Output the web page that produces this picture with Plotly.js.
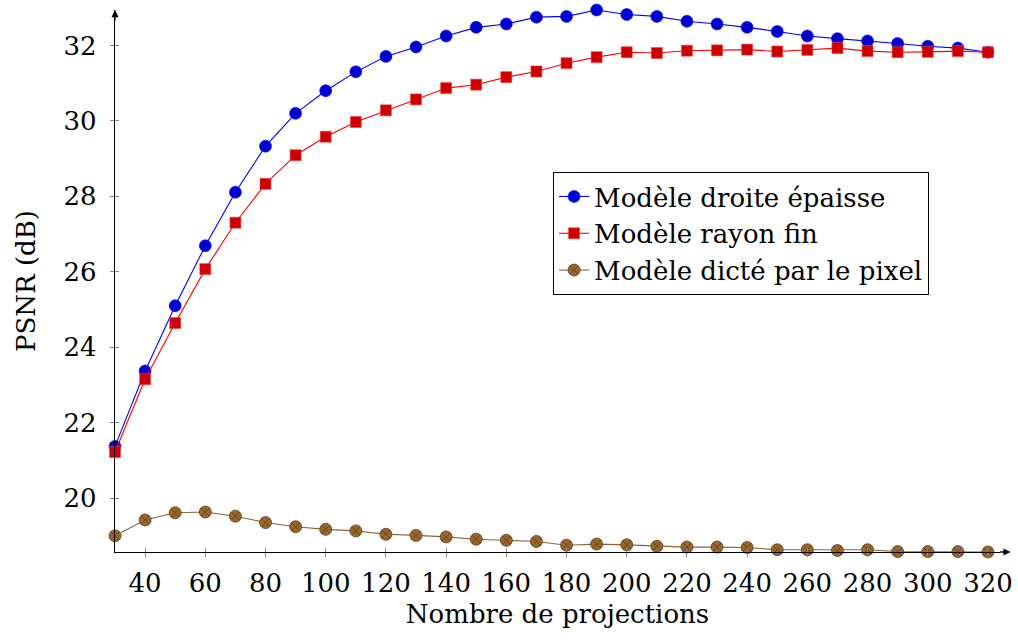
<!DOCTYPE html>
<html>
<head>
<meta charset="utf-8">
<script src="https://cdn.plot.ly/plotly-3.0.1.min.js"></script>
<style>html,body{margin:0;padding:0;background:#fff;}#chart{width:1018px;height:641px;}</style>
</head>
<body>
<div id="chart"></div>
<script>
const projections = [30,40,50,60,70,80,90,100,110,120,130,140,150,160,170,180,190,200,210,220,230,240,250,260,270,280,290,300,310,320];
const droiteEpaisse = [21.37,23.37,25.10,26.69,28.11,29.33,30.20,30.80,31.30,31.71,31.96,32.25,32.48,32.57,32.75,32.77,32.94,32.82,32.77,32.64,32.57,32.48,32.37,32.25,32.18,32.12,32.05,31.98,31.93,31.82];
const rayonFin = [21.22,23.15,24.64,26.07,27.30,28.33,29.09,29.58,29.97,30.28,30.57,30.87,30.96,31.16,31.31,31.53,31.69,31.82,31.80,31.86,31.87,31.89,31.84,31.88,31.93,31.85,31.82,31.83,31.85,31.82];
const dictePixel = [19.00,19.42,19.61,19.63,19.52,19.35,19.24,19.17,19.13,19.04,19.01,18.97,18.91,18.88,18.85,18.75,18.78,18.76,18.72,18.70,18.70,18.69,18.63,18.63,18.61,18.63,18.58,18.58,18.58,18.57];
const seriesNames = ["Modèle droite épaisse","Modèle rayon fin","Modèle dicté par le pixel"];
const xTicks = [40,60,80,100,120,140,160,180,200,220,240,260,280,300,320];
const yTicks = [20,22,24,26,28,30,32];
const xTitle = "Nombre de projections";
const yTitle = "PSNR (dB)";

const FONT = "DejaVu Serif";
const FS = 26;
const xr = [30, 324];
const yr = [18.57, 32.94];

const traces = [
  {x: projections, y: droiteEpaisse, name: seriesNames[0], mode: 'lines+markers', cliponaxis: false,
   line: {color: '#0000ff', width: 1.1},
   marker: {symbol: 'circle', size: 12, color: '#0000cc', line: {color: '#0000ff', width: 0.6}}},
  {x: projections, y: rayonFin, name: seriesNames[1], mode: 'lines+markers', cliponaxis: false,
   line: {color: '#ff0000', width: 1.1},
   marker: {symbol: 'square', size: 11, color: '#cc0000', line: {color: '#ff4040', width: 0.6}}},
  {x: projections, y: dictePixel, name: seriesNames[2], mode: 'lines+markers', cliponaxis: false,
   line: {color: '#8c6239', width: 1.1},
   marker: {symbol: 'circle-x', size: 12, color: '#99662e', line: {color: '#5e3d1a', width: 0.8}}},
  {x: [], y: [], xaxis: 'x2', yaxis: 'y2', showlegend: false, hoverinfo: 'skip', type: 'scatter'}
];

const layout = {
  width: 1018, height: 641,
  margin: {l: 115, r: 18, t: 10, b: 89},
  paper_bgcolor: '#fff', plot_bgcolor: '#fff',
  font: {family: FONT, size: FS, color: '#000'},
  showlegend: true,
  legend: {x: 0.495, y: 0.701, xanchor: 'left', yanchor: 'top',
           bordercolor: '#000', borderwidth: 1, bgcolor: '#fff',
           font: {family: FONT, size: FS, color: '#000'}, tracegroupgap: 0, itemwidth: 30},
  xaxis: {range: xr, tickvals: xTicks, ticktext: xTicks.map(String), showgrid: false, zeroline: false,
          showline: true, linecolor: '#000', linewidth: 1.3, ticks: 'outside', ticklen: 4,
          tickcolor: '#888', tickwidth: 1, ticklabelstandoff: 3,
          tickfont: {family: FONT, size: FS, color: '#000'},
          title: {text: xTitle, font: {family: FONT, size: FS, color: '#000'}, standoff: 8}},
  yaxis: {range: yr, tickvals: yTicks, ticktext: yTicks.map(String), showgrid: false, zeroline: false,
          showline: true, linecolor: '#000', linewidth: 1.3, ticks: 'outside', ticklen: 4,
          tickcolor: '#888', tickwidth: 1, ticklabelstandoff: 8,
          tickfont: {family: FONT, size: FS, color: '#000'},
          title: {text: yTitle, font: {family: FONT, size: FS, color: '#000'}, standoff: 20}},
  xaxis2: {range: xr, overlaying: 'x', anchor: 'y2', side: 'bottom', tickvals: xTicks, showticklabels: false,
           showgrid: false, zeroline: false, showline: false, ticks: 'inside', ticklen: 4, tickcolor: '#888', tickwidth: 1},
  yaxis2: {range: yr, overlaying: 'y', anchor: 'x2', side: 'left', tickvals: yTicks, showticklabels: false,
           showgrid: false, zeroline: false, showline: false, ticks: 'inside', ticklen: 4, tickcolor: '#888', tickwidth: 1},
  annotations: [
    {xref: 'paper', yref: 'paper', x: 1.012, y: 0, ax: -12, ay: 0, axref: 'pixel', ayref: 'pixel',
     showarrow: true, arrowhead: 2, arrowsize: 1.1, arrowwidth: 1.3, arrowcolor: '#000', text: ''},
    {xref: 'paper', yref: 'paper', x: 0, y: 1.0, ax: 0, ay: 12, axref: 'pixel', ayref: 'pixel',
     showarrow: true, arrowhead: 2, arrowsize: 1.1, arrowwidth: 1.3, arrowcolor: '#000', text: ''}
  ]
};

Plotly.newPlot('chart', traces, layout, {displayModeBar: false, staticPlot: true});
</script>
</body>
</html>
